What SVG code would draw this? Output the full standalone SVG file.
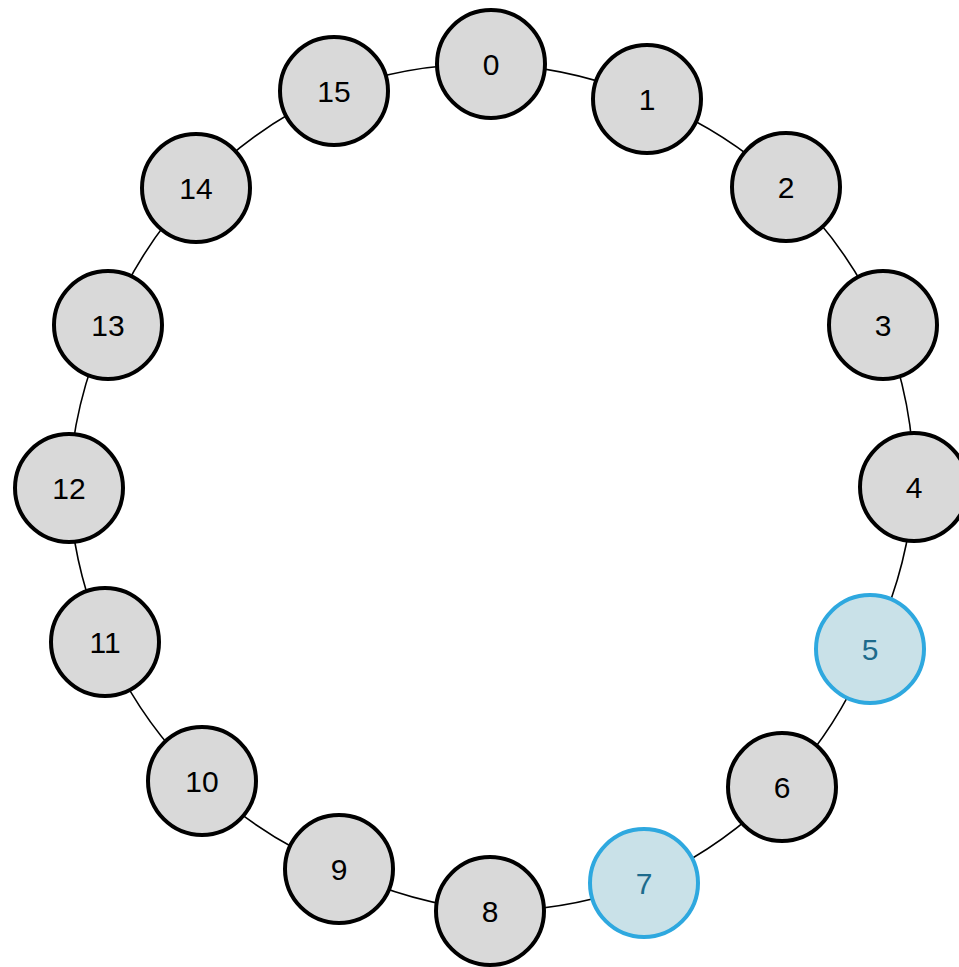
<svg xmlns="http://www.w3.org/2000/svg" width="959" height="967" viewBox="0 0 959 967">
<style>
.e{fill:none;stroke:#000;stroke-width:1.6}
.n circle{fill:#d9d9d9;stroke:#000;stroke-width:4}
.n text{font-family:"Liberation Sans",Arial,sans-serif;font-size:30px;fill:#000;text-anchor:middle;dominant-baseline:central}
.h circle{fill:#c9e1e8;stroke:#2ea8df}
.h text{fill:#1d6b8c}
</style>
<rect width="959" height="967" fill="#fff"/>
<g id="connectors">
<path class="e" d="M491,64 A430,430 0 0 1 647,99"/>
<path class="e" d="M647,99 A430,430 0 0 1 786,187"/>
<path class="e" d="M786,187 A430,430 0 0 1 883,325"/>
<path class="e" d="M883,325 A430,430 0 0 1 914,487"/>
<path class="e" d="M914,487 A430,430 0 0 1 870,649"/>
<path class="e" d="M870,649 A430,430 0 0 1 782,787"/>
<path class="e" d="M782,787 A430,430 0 0 1 644,883"/>
<path class="e" d="M644,883 A430,430 0 0 1 490,911"/>
<path class="e" d="M490,911 A430,430 0 0 1 339,869"/>
<path class="e" d="M339,869 A430,430 0 0 1 202,781"/>
<path class="e" d="M202,781 A430,430 0 0 1 105,642"/>
<path class="e" d="M105,642 A430,430 0 0 1 69,488"/>
<path class="e" d="M69,488 A430,430 0 0 1 108,325"/>
<path class="e" d="M108,325 A430,430 0 0 1 196,188"/>
<path class="e" d="M196,188 A430,430 0 0 1 334,91"/>
<path class="e" d="M334,91 A430,430 0 0 1 491,64"/>
</g>
<g id="node0" class="n"><circle cx="491" cy="64" r="54"/><text x="491" y="64">0</text></g>
<g id="node1" class="n"><circle cx="647" cy="99" r="54"/><text x="647" y="99">1</text></g>
<g id="node2" class="n"><circle cx="786" cy="187" r="54"/><text x="786" y="187">2</text></g>
<g id="node3" class="n"><circle cx="883" cy="325" r="54"/><text x="883" y="325">3</text></g>
<g id="node4" class="n"><circle cx="914" cy="487" r="54"/><text x="914" y="487">4</text></g>
<g id="node5" class="n h"><circle cx="870" cy="649" r="54"/><text x="870" y="649">5</text></g>
<g id="node6" class="n"><circle cx="782" cy="787" r="54"/><text x="782" y="787">6</text></g>
<g id="node7" class="n h"><circle cx="644" cy="883" r="54"/><text x="644" y="883">7</text></g>
<g id="node8" class="n"><circle cx="490" cy="911" r="54"/><text x="490" y="911">8</text></g>
<g id="node9" class="n"><circle cx="339" cy="869" r="54"/><text x="339" y="869">9</text></g>
<g id="node10" class="n"><circle cx="202" cy="781" r="54"/><text x="202" y="781">10</text></g>
<g id="node11" class="n"><circle cx="105" cy="642" r="54"/><text x="105" y="642">11</text></g>
<g id="node12" class="n"><circle cx="69" cy="488" r="54"/><text x="69" y="488">12</text></g>
<g id="node13" class="n"><circle cx="108" cy="325" r="54"/><text x="108" y="325">13</text></g>
<g id="node14" class="n"><circle cx="196" cy="188" r="54"/><text x="196" y="188">14</text></g>
<g id="node15" class="n"><circle cx="334" cy="91" r="54"/><text x="334" y="91">15</text></g>
</svg>
